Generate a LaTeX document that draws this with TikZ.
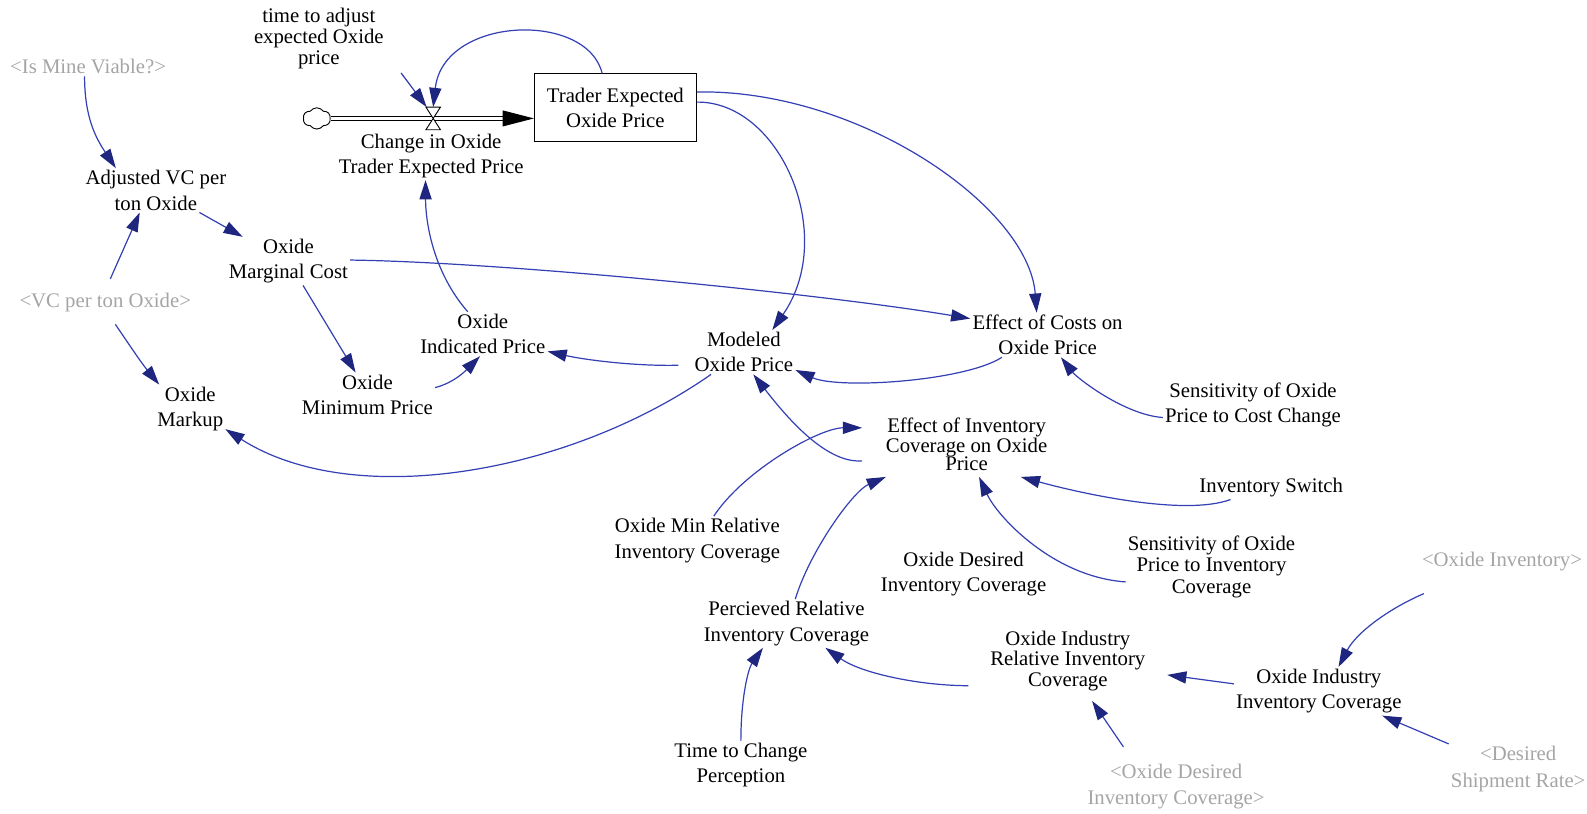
\documentclass[tikz,border=0pt]{standalone}
\usepackage{fontspec}
\setmainfont{Liberation Serif}
\usetikzlibrary{arrows.meta,shapes.symbols,calc}
\definecolor{linkblue}{RGB}{52,64,180}
\definecolor{tipnavy}{RGB}{30,38,128}
\definecolor{shadowgray}{RGB}{165,165,165}
\begin{document}
\begin{tikzpicture}[x=1pt,y=-1pt,
  vname/.style={font=\fontsize{20.5}{25}\selectfont, align=center, inner sep=2pt, text=black},
  shvar/.style={vname, text=shadowgray},
  lnk/.style={draw=linkblue, line width=1.2pt, -{Triangle[length=19pt,width=12pt,color=tipnavy]}},
  pipe/.style={line width=0.9pt, double distance=3.5pt, draw=black}
]
\useasboundingbox (0,0) rectangle (1568,804);

% variables
\node[shvar] (isMine) at (87,66) {<Is Mine Viable?>};
\node[vname] (adjVC) at (154,188) {Adjusted VC per\\ton Oxide};
\node[shvar] (vcPer) at (104,299) {<VC per ton Oxide>};
\node[vname] (margCost) at (285,258) {Oxide\\Marginal Cost};
\node[vname] (markup) at (188,404) {Oxide\\Markup};
\node[vname] (minPrice) at (363,390) {Oxide\\Minimum Price};
\node[vname] (indPrice) at (477,330) {Oxide\\Indicated Price};
\node[vname] (modeled) at (735,348) {Modeled\\Oxide Price};
\node[vname] (effCosts) at (1035,331) {Effect of Costs on\\Oxide Price};
\node[vname] (sensCost) at (1238,400) {Sensitivity of Oxide\\Price to Cost Change};
\node[vname, font=\fontsize{20.5}{18}\selectfont, minimum width=206pt, minimum height=64pt] (effInv) at (955,439) {Effect of Inventory\\Coverage on Oxide\\Price};
\node[vname] (invSwitch) at (1256,482) {Inventory Switch};
\node[vname] (minRel) at (689,534) {Oxide Min Relative\\Inventory Coverage};
\node[vname] (desInv) at (952,567) {Oxide Desired\\Inventory Coverage};
\node[vname, font=\fontsize{20.5}{21}\selectfont] (sensInv) at (1197,560) {Sensitivity of Oxide\\Price to Inventory\\Coverage};
\node[vname] (perc) at (777,616) {Percieved Relative\\Inventory Coverage};
\node[vname, font=\fontsize{20.5}{20}\selectfont, minimum width=196pt] (indRel) at (1055,653) {Oxide Industry\\Relative Inventory\\Coverage};
\node[shvar] (oxInv) at (1484,555) {<Oxide Inventory>};
\node[vname] (indInv) at (1303,683) {Oxide Industry\\Inventory Coverage};
\node[vname] (timePerc) at (732,756) {Time to Change\\Perception};
\node[shvar] (oxDesInvS) at (1162,777) {<Oxide Desired\\Inventory Coverage>};
\node[shvar, font=\fontsize{20.5}{27}\selectfont] (desShip) at (1500,760) {<Desired\\Shipment Rate>};
\node[vname, font=\fontsize{20.5}{20.5}\selectfont] (timeAdj) at (315,38) {time to adjust\\expected Oxide\\price};

% stock and flow
\node[vname, draw=black, line width=0.9pt, minimum width=160pt, minimum height=67pt] (stock) at (608,106.5) {Trader Expected\\Oxide Price};
\node[vname] (flowLbl) at (426,154) {Change in Oxide\\Trader Expected Price};
\node[cloud, draw=black, cloud puffs=6, cloud puff arc=110, aspect=1.3, minimum width=27pt, minimum height=21pt, inner sep=0pt, line width=0.9pt] (cloud) at (313,117) {};
\node[minimum width=14pt, minimum height=22pt, inner sep=0pt] (valve) at (428,117) {};
\coordinate (pipeEnd) at (cloud.east -| stock.west);

\draw[pipe] (cloud.east) -- ($(pipeEnd)+(-28,0)$);
\fill[black] (pipeEnd) -- ($(pipeEnd)+(-31,-8)$) -- ($(pipeEnd)+(-31,8)$) -- cycle;
\draw[line width=0.9pt, fill=white] (valve.north west) -- (valve.north east) -- (valve.south west) -- (valve.south east) -- cycle;

% connectors
\draw[lnk] (isMine.-110) .. controls +(0,40) and +(-20,-30) .. (adjVC.151);
\draw[lnk] ($(vcPer.north)+(5,-12)$) -- (adjVC.-126);
\draw[lnk] ($(vcPer.south)+(10,10)$) .. controls +(15,22) and +(-18,-22) .. (markup.142);
\draw[lnk] (adjVC.-27) -- (margCost.152);
\draw[lnk] (margCost.-59) -- (minPrice.118);
\draw[lnk] (margCost.1) .. controls +(150,2) and +(-150,-25) .. (effCosts.168);
\draw[lnk] (minPrice.6) .. controls +(20,-5) and +(-12,12) .. (indPrice.-97);
\draw[lnk] (indPrice.124) .. controls +(-35,-40) and +(0,40) .. (flowLbl.-103);
\draw[lnk] ($(modeled.-169)+(-14,3)$) .. controls +(-45,1) and +(35,8) .. (indPrice.-15);
\draw[lnk] (modeled.-146) .. controls +(-140,98) and +(127,81) .. (markup.-30);
\draw[lnk] (stock.4) .. controls +(82,-1) and +(65,-94) .. (modeled.38);
\draw[lnk] (stock.11) .. controls +(160,-3) and +(-8,-105) .. (effCosts.116);
\draw[lnk] (stock.111) .. controls +(-15,-62) and +(10,-90) .. (valve.north);
\draw[lnk] ($(timeAdj.south east)+(15,2)$) -- (valve.120);
\draw[lnk] (effCosts.-154) .. controls +(-36,23.5) and +(43,19.4) .. (modeled.-19);
\draw[lnk] (sensCost.-172) .. controls +(-38,-2.6) and +(16,20.5) .. (effCosts.-59);
\draw[lnk] (effInv.-171) .. controls +(-37,3) and +(30,38.5) .. (modeled.-67);
\draw[lnk] (minRel.56) .. controls +(30,-45.5) and +(-42,0) .. (effInv.171);
\draw[lnk] (perc.70) .. controls +(14.4,-47.5) and +(-32.5,14) .. (effInv.-158.8);
\draw[lnk] (invSwitch.-164.5) .. controls +(-44.5,16.5) and +(62,17) .. (effInv.-31);
\draw[lnk] (sensInv.-170) .. controls +(-72,-5) and +(18,39) .. (effInv.-69.4);
\draw[lnk] (indRel.-166.7) .. controls +(-47,0) and +(36,25.5) .. (perc.-32.4);
\draw[lnk] (timePerc.north) .. controls +(0,-42.5) and +(-14.5,20.5) .. (perc.-134);
\draw[lnk] (indInv.175) -- (indRel.-8);
\draw[lnk] ($(oxInv.south west)+(4,20)$) .. controls +(-33,14) and +(18,-34.5) .. (indInv.51);
\draw[lnk] ($(oxDesInvS.north)+(-52,-15)$) -- ($(indRel.south)+(24,8)$);
\draw[lnk] (desShip.north west) -- (indInv.-21);
\end{tikzpicture}
\end{document}
